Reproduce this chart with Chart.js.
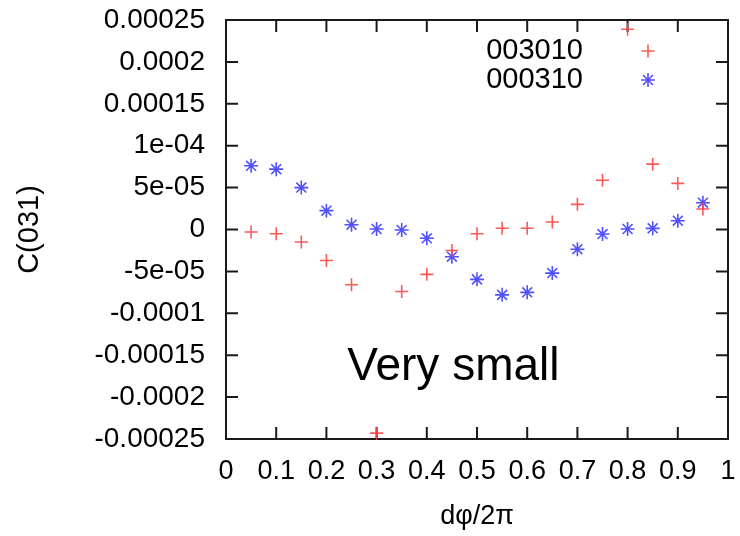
<!DOCTYPE html>
<html>
<head>
<meta charset="utf-8">
<script src="https://cdn.jsdelivr.net/npm/chart.js@4.4.1/dist/chart.umd.min.js"></script>
<style>
  html, body { margin: 0; padding: 0; background: #fff; }
</style>
</head>
<body>
<canvas id="chart" width="740" height="536"></canvas>
<script>
// d(phi)/2pi positions
const phase = [0.05, 0.1, 0.15, 0.2, 0.25, 0.3, 0.35, 0.4, 0.45, 0.5,
               0.55, 0.6, 0.65, 0.7, 0.75, 0.8, 0.85, 0.9, 0.95];

// C(031) for the two configurations
const c003010 = [-0.000003, -0.000005, -0.000015, -0.000037, -0.000066, -0.000243, -0.000074, -0.0000535, -0.000025, -0.000005,
                 0.0000015, 0.0000015, 0.000009, 0.00003, 0.0000587, 0.000239, 0.000078, 0.000055, 0.0000245];
const c000310 = [0.000076, 0.000072, 0.00005, 0.0000225, 0.0000057, 0.0000006, -0.0000006, -0.0000105, -0.0000325, -0.0000595,
                 -0.000078, -0.000075, -0.000052, -0.0000235, -0.0000054, 0.0000006, 0.0000014, 0.0000105, 0.000032];

const xTicks = [0, 0.1, 0.2, 0.3, 0.4, 0.5, 0.6, 0.7, 0.8, 0.9, 1];
const xTickLabels = ['0', '0.1', '0.2', '0.3', '0.4', '0.5', '0.6', '0.7', '0.8', '0.9', '1'];
const yTicks = [-0.00025, -0.0002, -0.00015, -0.0001, -0.00005, 0, 0.00005, 0.0001, 0.00015, 0.0002, 0.00025];
const yTickLabels = ['-0.00025', '-0.0002', '-0.00015', '-0.0001', '-5e-05', '0', '5e-05', '1e-04', '0.00015', '0.0002', '0.00025'];

const seriesLabels = ['003010', '000310'];
const noteText = 'Very small';

const FONT = '"Liberation Sans", Arial, Helvetica, sans-serif';
const RED = 'rgba(255, 70, 70, 0.9)';
const BLUE = 'rgba(50, 50, 255, 0.85)';

function toPoints(xs, ys) {
    return xs.map((x, i) => ({ x: x, y: ys[i] }));
}

// gnuplot style frame with ticks pointing inwards on all four sides
const framePlugin = {
    id: 'frame',
    beforeDatasetsDraw(chart) {
        const { ctx, chartArea: a, scales } = chart;
        ctx.save();
        ctx.strokeStyle = '#1a1a1a';
        ctx.lineWidth = 2;
        ctx.strokeRect(a.left, a.top, a.right - a.left, a.bottom - a.top);
        const len = 12;
        ctx.beginPath();
        scales.x.ticks.forEach(t => {
            const px = scales.x.getPixelForValue(t.value);
            ctx.moveTo(px, a.bottom); ctx.lineTo(px, a.bottom - len);
            ctx.moveTo(px, a.top); ctx.lineTo(px, a.top + len);
        });
        scales.y.ticks.forEach(t => {
            const py = scales.y.getPixelForValue(t.value);
            ctx.moveTo(a.left, py); ctx.lineTo(a.left + len, py);
            ctx.moveTo(a.right, py); ctx.lineTo(a.right - len, py);
        });
        ctx.stroke();
        ctx.restore();
    },
    afterDraw(chart) {
        const { ctx, scales } = chart;
        ctx.save();
        // key, top right inside the frame
        chart.data.datasets.forEach((ds, i) => {
            const y = 51 + i * 29;
            ctx.fillStyle = '#000';
            ctx.font = '29px ' + FONT;
            ctx.textAlign = 'right';
            ctx.textBaseline = 'middle';
            ctx.fillText(ds.label, 583, y);
            ctx.strokeStyle = ds.borderColor;
            ctx.fillStyle = ds.backgroundColor;
            ctx.lineWidth = ds.borderWidth;
            Chart.helpers.drawPoint(ctx, {
                pointStyle: ds.pointStyle,
                radius: ds.pointRadius,
                borderWidth: ds.borderWidth,
                rotation: 0
            }, 648, y);
        });
        // annotation
        ctx.fillStyle = '#000';
        ctx.font = '46px ' + FONT;
        ctx.textAlign = 'center';
        ctx.textBaseline = 'alphabetic';
        ctx.fillText(noteText, scales.x.getPixelForValue(0.453), scales.y.getPixelForValue(-0.0001795));
        ctx.restore();
    }
};

const ctx = document.getElementById('chart').getContext('2d');

const chart = new Chart(ctx, {
    type: 'scatter',
    data: {
        datasets: [{
            label: seriesLabels[0],
            data: toPoints(phase, c003010),
            pointStyle: 'cross',
            pointRadius: 6.5,
            borderWidth: 1.6,
            borderColor: RED,
            backgroundColor: RED,
            clip: false
        }, {
            label: seriesLabels[1],
            data: toPoints(phase, c000310),
            pointStyle: 'star',
            pointRadius: 7,
            borderWidth: 1.6,
            borderColor: BLUE,
            backgroundColor: BLUE,
            clip: false
        }]
    },
    options: {
        responsive: false,
        animation: false,
        events: [],
        layout: { padding: { top: 20, right: 12, bottom: 0, left: 0 } },
        plugins: {
            legend: { display: false },
            tooltip: { enabled: false }
        },
        scales: {
            x: {
                type: 'linear',
                min: 0,
                max: 1,
                afterBuildTicks: (scale) => { scale.ticks = xTicks.map(v => ({ value: v })); },
                afterFit: (scale) => {
                    scale.height = 97;
                    scale.paddingLeft = 0;
                    scale.paddingRight = 0;
                },
                grid: { display: false, drawTicks: false },
                border: { display: false },
                ticks: {
                    autoSkip: false,
                    maxRotation: 0,
                    padding: 16,
                    color: '#000',
                    font: { family: FONT, size: 27 },
                    callback: (v, i) => xTickLabels[i]
                },
                title: {
                    display: true,
                    text: 'dφ/2π',
                    color: '#000',
                    font: { family: FONT, size: 27 },
                    padding: { top: 0, bottom: 3 }
                }
            },
            y: {
                type: 'linear',
                min: -0.00025,
                max: 0.00025,
                afterBuildTicks: (scale) => { scale.ticks = yTicks.map(v => ({ value: v })); },
                afterFit: (scale) => {
                    scale.width = 226;
                    scale.paddingTop = 0;
                    scale.paddingBottom = 0;
                },
                grid: { display: false, drawTicks: false },
                border: { display: false },
                ticks: {
                    autoSkip: false,
                    padding: 21,
                    color: '#000',
                    font: { family: FONT, size: 28 },
                    callback: (v, i) => yTickLabels[i]
                },
                title: {
                    display: true,
                    text: 'C(031)',
                    color: '#000',
                    font: { family: FONT, size: 29 },
                    padding: { top: 13, bottom: 0 }
                }
            }
        }
    },
    plugins: [framePlugin]
});
</script>
</body>
</html>
